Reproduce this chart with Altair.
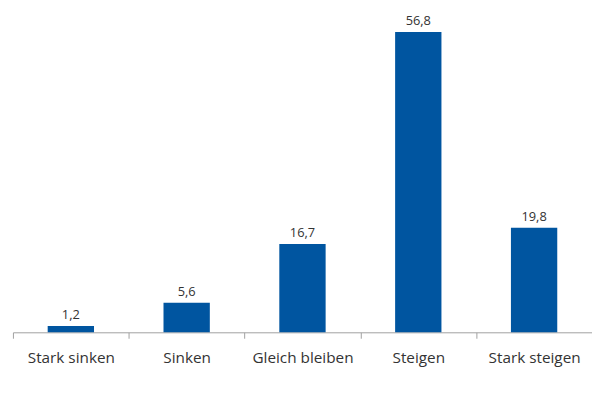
import altair as alt
import pandas as pd

categories = ["Stark sinken", "Sinken", "Gleich bleiben", "Steigen", "Stark steigen"]
values = [1.2, 5.6, 16.7, 56.8, 19.8]

df = pd.DataFrame({
    "cat": categories,
    "val": values,
    "label": [f"{v:.1f}".replace(".", ",") for v in values],
})

x = alt.X("cat:N", sort=categories,
          scale=alt.Scale(paddingInner=0, paddingOuter=0),
          axis=alt.Axis(title=None, labelAngle=0, tickBand="extent", tickSize=6,
                        domainColor="#a0a0a0", tickColor="#a0a0a0",
                        labelFont="Open Sans", labelFontSize=15.5, labelColor="#333333",
                        labelPadding=13))
y = alt.Y("val:Q", scale=alt.Scale(domain=[0, 60]), axis=None)

bars = alt.Chart(df).mark_bar(color="#0055a0", width=alt.RelativeBandSize(0.4)).encode(x=x, y=y)
text = alt.Chart(df).mark_text(dy=-11, font="Open Sans", fontSize=13, color="#333333").encode(
    x=x, y=y, text="label:N")

chart = (bars + text).properties(
    width=586, height=321,
    autosize=alt.AutoSizeParams(type="none"),
    padding={"left": 5, "top": 5, "right": 0, "bottom": 40},
).configure_view(stroke=None)

chart.save("out.html", embed_options={"renderer": "svg", "actions": False})
